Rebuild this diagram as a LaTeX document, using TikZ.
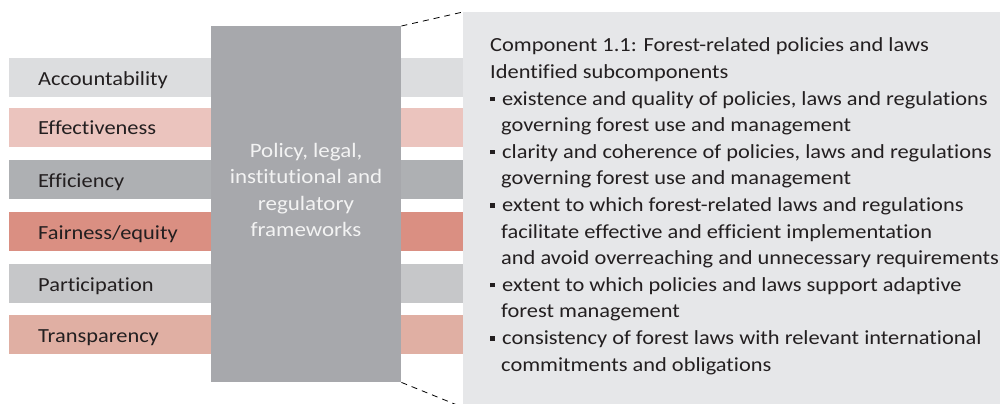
\documentclass[tikz,border=0pt]{standalone}
\usepackage{fontspec}
\setmainfont{Carlito}[FakeStretch=1.12, Ligatures={NoCommon,NoContextual}]
\definecolor{cAcc}{HTML}{DCDDDF}
\definecolor{cEff}{HTML}{EBC4BE}
\definecolor{cEffi}{HTML}{AEB0B3}
\definecolor{cFair}{HTML}{DA8F82}
\definecolor{cPart}{HTML}{C6C7C9}
\definecolor{cTrans}{HTML}{E0AFA3}
\definecolor{cCentre}{HTML}{A7A8AC}
\definecolor{cPanel}{HTML}{E6E7E9}
\definecolor{cText}{HTML}{231F20}
\definecolor{cLight}{HTML}{F3F3F3}
\newcommand{\bul}{\makebox[12pt][l]{\rule[0.2em]{0.23em}{0.23em}}}
\newcommand{\cont}{\hspace*{11pt}}
\tikzset{
  bar/.style={rectangle, draw=none, minimum width=454pt, minimum height=39pt, inner sep=0pt, anchor=north west},
  lab/.style={anchor=base west, inner sep=0pt, text=cText, font=\fontsize{20}{24}\selectfont},
  conn/.style={draw=black, dash pattern=on 6pt off 5pt, line width=0.8pt}
}
\begin{document}
\begin{tikzpicture}[x=1pt,y=-1pt]
\useasboundingbox (0,0) rectangle (1002,404);
% bars
\node[bar, fill=cAcc]   (b1) at (9,58)  {};
\node[bar, fill=cEff]   (b2) at (9,108) {};
\node[bar, fill=cEffi]  (b3) at (9,160) {};
\node[bar, fill=cFair]  (b4) at (9,212) {};
\node[bar, fill=cPart]  (b5) at (9,264) {};
\node[bar, fill=cTrans] (b6) at (9,315) {};
\node[lab] (l1) at (38,85)  {Accountability};
\node[lab] (l2) at (38,135) {Effectiveness};
\node[lab] (l3) at (38,187) {Efficiency};
\node[lab] (l4) at (38,239) {Fairness/equity};
\node[lab] (l5) at (38,291) {Participation};
\node[lab] (l6) at (38,342) {Transparency};
% central box
\node[rectangle, fill=cCentre, minimum width=190pt, minimum height=356pt, inner sep=0pt, anchor=north west] (centre) at (211,26) {};
\node[align=center, text=cLight, font=\fontsize{20.5}{26.5}\selectfont, inner sep=0pt] (ctext) at (306,190) {Policy, legal,\\institutional and\\regulatory\\frameworks};
% right panel
\node[rectangle, fill=cPanel, minimum width=537pt, minimum height=392pt, inner sep=0pt, anchor=north west] (panel) at (463,12) {};
\node[anchor=base west, inner sep=0pt, text=cText] (ptext) at (490,52) {\parbox[t]{580pt}{\fontsize{20}{26.6}\selectfont\raggedright
Component 1.1: Forest-related policies and laws\\
Identified subcomponents\\
\bul existence and quality of policies, laws and regulations\\
\cont governing forest use and management\\
\bul clarity and coherence of policies, laws and regulations\\
\cont governing forest use and management\\
\bul extent to which forest-related laws and regulations\\
\cont facilitate effective and efficient implementation\\
\cont and avoid overreaching and unnecessary requirements\\
\bul extent to which policies and laws support adaptive\\
\cont forest management\\
\bul consistency of forest laws with relevant international\\
\cont commitments and obligations}};
% connectors
\draw[conn] (centre.north east) -- (panel.north west);
\draw[conn] (centre.south east) -- ([yshift=-3pt]panel.south west);
\end{tikzpicture}
\end{document}
